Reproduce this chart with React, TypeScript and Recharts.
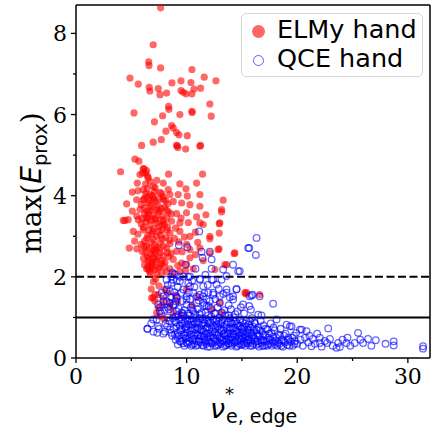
import { ScatterChart, Scatter, XAxis, YAxis, ReferenceLine } from 'recharts';

// [nu*_e,edge, max(E_prox)] pairs
const ELMY_HAND: [number, number][] = [
  [7.65, 8.63], [6.98, 7.72], [6.57, 7.3], [6.6, 7.21], [7.65, 7.15], [10.48, 7.11], [4.88, 6.9], [5.63, 6.75],
  [6.62, 6.67], [6.68, 6.58], [7.44, 6.64], [7.59, 6.49], [8.19, 6.53], [8.67, 6.78], [9.49, 6.83], [10.39, 6.79],
  [11.59, 6.92], [12.65, 6.83], [9.49, 6.59], [9.69, 6.55], [9.94, 6.51], [10.48, 6.51], [10.66, 6.63], [11.26, 6.65],
  [12.1, 6.26], [12.22, 5.96], [8.37, 6.2], [8.4, 6.13], [5.24, 6.04], [7.83, 5.97], [9.39, 6.0], [10.48, 6.08],
  [10.5, 6.05], [7.09, 5.82], [8.64, 5.73], [8.79, 5.67], [8.13, 5.59], [9.09, 5.56], [9.3, 5.5], [10.06, 5.48],
  [5.93, 5.24], [6.98, 5.32], [7.71, 5.38], [9.09, 5.24], [9.21, 5.19], [9.91, 5.15], [11.26, 5.24], [9.15, 5.23],
  [11.2, 5.22], [5.33, 4.9], [5.69, 4.85], [6.14, 4.67], [6.38, 4.62], [6.02, 4.56], [4.03, 4.59], [5.78, 4.52],
  [6.47, 4.48], [8.37, 4.53], [11.44, 4.53], [6.08, 4.66], [6.29, 4.56], [6.53, 4.44],
  [5.54, 4.31], [6.29, 4.29], [6.98, 4.23], [7.89, 4.31], [9.39, 4.29], [9.94, 4.17], [10.9, 4.31], [7.3, 4.38], [6.7, 4.35],
  [5.09, 4.09], [6.08, 4.15], [6.68, 4.03], [7.59, 4.08], [8.34, 4.15], [8.49, 4.03], [9.24, 4.03], [10.06, 3.99],
  [11.2, 4.03], [5.6, 4.12], [7.1, 4.1], [6.4, 3.98], [7.9, 3.97],
  [4.58, 3.8], [5.48, 3.9], [6.08, 3.9], [6.98, 3.89], [7.89, 3.9], [8.79, 3.86], [9.55, 3.82], [10.3, 3.78],
  [11.2, 3.74], [13.3, 3.89], [5.9, 3.78], [6.5, 3.82], [7.4, 3.77], [8.3, 3.8], [7.0, 3.95], [6.2, 3.7],
  [5.09, 3.62], [5.78, 3.66], [6.68, 3.62], [7.43, 3.59], [8.19, 3.64], [9.09, 3.56], [9.99, 3.58], [10.9, 3.48],
  [11.74, 3.53], [13.16, 3.6], [13.16, 3.66], [6.2, 3.55], [7.0, 3.52], [7.8, 3.5], [8.6, 3.55], [5.5, 3.5],
  [6.5, 3.45], [9.5, 3.45],
  [4.27, 3.39], [4.72, 3.41], [5.63, 3.41], [6.38, 3.45], [7.14, 3.41], [7.89, 3.37], [8.64, 3.37], [9.39, 3.33],
  [10.15, 3.34], [11.2, 3.33], [11.5, 3.29], [12.95, 3.31], [13.0, 3.33], [4.43, 3.39], [5.9, 3.3], [6.7, 3.28],
  [7.5, 3.25], [8.3, 3.22], [9.0, 3.2], [6.1, 3.22], [7.0, 3.18],
  [5.18, 3.12], [6.08, 3.16], [6.98, 3.12], [7.74, 3.16], [8.49, 3.08], [9.39, 3.12], [10.3, 3.0], [12.1, 3.0],
  [12.95, 3.08], [5.6, 3.05], [6.5, 3.02], [7.3, 3.0], [8.1, 2.97], [8.9, 2.95], [9.8, 2.98], [12.1, 2.94],
  [10.8, 3.1], [5.3, 2.88], [6.2, 2.88], [6.8, 2.85], [7.6, 2.84], [8.5, 2.82], [9.3, 2.86], [10.0, 2.8],
  [11.0, 2.85], [7.1, 2.78], [5.9, 2.8],
  [4.82, 2.71], [5.5, 2.69], [6.38, 2.75], [7.14, 2.67], [8.19, 2.71], [9.09, 2.63], [10.3, 2.67], [11.2, 2.71],
  [12.1, 2.59], [12.85, 2.67], [12.93, 2.69], [14.3, 2.57], [14.36, 2.59], [6.0, 2.62], [7.6, 2.6], [8.6, 2.58],
  [9.6, 2.62], [6.8, 2.55], [10.8, 2.55],
  [6.53, 2.38], [7.29, 2.43], [8.04, 2.36], [8.79, 2.43], [9.55, 2.34], [10.3, 2.47], [6.1, 2.45], [7.0, 2.48],
  [7.7, 2.32], [8.4, 2.5], [9.2, 2.28], [10.0, 2.3], [11.5, 2.4], [13.61, 2.3], [13.46, 2.3],
  [6.38, 2.2], [6.68, 2.14], [7.14, 2.18], [7.74, 2.1], [8.49, 2.2], [9.39, 2.14], [12.56, 2.18], [6.5, 2.25],
  [6.9, 2.28], [7.4, 2.22], [6.7, 2.08], [8.0, 2.25], [7.3, 2.06], [8.8, 2.08], [9.9, 2.15], [10.6, 2.2],
  [6.53, 2.18], [6.84, 2.22],
  [6.3, 4.05], [6.9, 4.0], [7.5, 3.93], [6.6, 3.88], [7.2, 3.85], [7.7, 3.68], [6.9, 3.7], [6.4, 3.62],
  [7.3, 3.66], [8.0, 3.72], [6.0, 3.44], [6.8, 3.4], [7.6, 3.42], [8.2, 3.45], [6.3, 3.35], [7.3, 3.32],
  [8.0, 3.3], [6.6, 3.15], [7.5, 3.12], [8.2, 3.15], [6.4, 2.95], [7.0, 2.92], [7.8, 2.93], [6.6, 2.7],
  [7.3, 2.73], [7.9, 2.76], [6.3, 2.6], [7.1, 2.58], [7.9, 2.52], [6.6, 2.45], [7.4, 2.5], [6.2, 2.3],
  [7.8, 2.4], [6.9, 2.35],
  [6.45, 4.18], [7.15, 4.2], [7.75, 4.05], [8.1, 3.88], [6.15, 3.92], [6.75, 3.75], [7.55, 3.62], [8.35, 3.6],
  [6.55, 3.55], [7.15, 3.45], [7.85, 3.28], [6.85, 3.05], [7.65, 3.02], [8.45, 2.9], [6.15, 2.75], [6.95, 2.65],
  [7.55, 2.68], [8.25, 2.6], [6.45, 2.5], [7.15, 2.38], [7.55, 2.25], [8.2, 2.12], [6.75, 2.32],
  [6.98, 1.48], [7.14, 1.4], [8.04, 1.69], [7.14, 1.56], [6.84, 1.48], [7.43, 1.24], [7.59, 1.03], [7.29, 1.11],
  [15.27, 1.61], [15.42, 1.61], [16.6, 1.56], [15.36, 1.58], [7.0, 1.88], [7.5, 1.78], [7.2, 1.95], [8.3, 1.6],
  [6.8, 1.7], [9.0, 1.55], [7.8, 1.3], [8.5, 1.25], [9.2, 1.4], [10.0, 1.7], [10.5, 1.3], [11.0, 1.5],
  [12.3, 1.2], [13.0, 1.35], [8.0, 0.95], [9.5, 1.05], [7.43, 1.56], [7.89, 1.44], [8.49, 1.36], [8.79, 1.11],
  [13.16, 1.11],
];

const QCE_HAND: [number, number][] = [
  // main band
  [6.44, 0.72], [6.47, 0.72], [6.98, 0.95], [7.43, 0.78], [7.35, 0.62], [6.8, 0.85], [7.0, 0.65], [7.3, 0.95],
  [7.5, 0.72], [7.7, 1.1], [7.9, 0.6], [8.1, 0.85], [8.3, 1.0], [8.5, 0.7], [8.7, 0.55], [8.9, 0.9],
  [9.1, 1.15], [9.2, 0.62], [9.4, 0.8], [9.6, 0.48], [9.7, 1.05], [9.9, 0.7], [10.0, 0.38], [10.1, 0.9],
  [8.05, 0.65], [8.25, 0.78], [8.45, 0.9], [8.6, 0.62], [8.75, 0.98], [8.85, 0.72], [8.95, 0.58],
  [9.0, 0.45], [9.1, 0.78], [9.2, 0.33], [9.3, 0.55], [9.35, 0.95], [9.45, 0.68], [9.5, 0.4], [9.6, 0.85],
  [9.65, 1.1], [9.75, 0.58], [9.8, 0.3], [9.85, 0.75], [9.9, 0.48], [9.95, 0.98],
  [9.05, 0.88], [9.15, 0.52], [9.25, 1.05], [9.38, 0.42], [9.52, 0.72], [9.58, 0.95], [9.68, 0.36], [9.78, 0.88],
  [9.88, 0.55], [9.98, 0.78],
  [10.05, 0.62], [10.1, 0.35], [10.2, 0.82], [10.25, 0.5], [10.3, 1.05], [10.35, 0.68], [10.4, 0.3], [10.45, 0.9],
  [10.5, 0.45], [10.55, 0.72], [10.6, 1.15], [10.65, 0.55], [10.7, 0.36], [10.75, 0.85], [10.8, 0.62], [10.85, 0.98],
  [10.9, 0.42], [10.95, 0.75],
  [10.02, 0.5], [10.12, 0.7], [10.22, 0.4], [10.28, 0.95], [10.38, 0.58], [10.48, 0.82], [10.52, 0.33], [10.62, 0.9],
  [10.68, 0.48], [10.78, 0.7], [10.82, 0.3], [10.92, 0.88], [10.98, 0.55],
  [11.0, 0.32], [11.05, 0.58], [11.1, 0.88], [11.15, 0.47], [11.2, 1.08], [11.25, 0.7], [11.3, 0.38], [11.35, 0.8],
  [11.4, 0.55], [11.45, 0.95], [11.5, 0.3], [11.55, 0.65], [11.6, 0.45], [11.65, 0.85], [11.7, 1.12], [11.75, 0.6],
  [11.8, 0.35], [11.85, 0.75], [11.9, 0.5], [11.95, 0.92],
  [11.02, 0.72], [11.12, 0.4], [11.18, 0.98], [11.28, 0.55], [11.38, 0.68], [11.42, 0.32], [11.52, 0.88], [11.58, 0.52],
  [11.68, 0.4], [11.72, 0.72], [11.82, 0.95], [11.88, 0.28], [11.92, 0.62], [11.98, 0.45],
  [12.0, 0.4], [12.05, 0.7], [12.1, 0.28], [12.15, 0.88], [12.2, 0.55], [12.25, 1.02], [12.3, 0.36], [12.35, 0.65],
  [12.4, 0.8], [12.45, 0.48], [12.5, 1.1], [12.55, 0.3], [12.6, 0.72], [12.65, 0.57], [12.7, 0.92], [12.75, 0.42],
  [12.8, 0.78], [12.85, 0.33], [12.9, 0.62], [12.95, 1.0],
  [12.02, 0.85], [12.12, 0.55], [12.18, 0.38], [12.28, 0.75], [12.38, 0.5], [12.42, 0.95], [12.52, 0.62], [12.58, 0.4],
  [12.68, 0.82], [12.72, 0.3], [12.82, 0.55], [12.88, 0.9], [12.98, 0.38],
  [13.0, 0.5], [13.05, 0.85], [13.1, 0.35], [13.15, 0.68], [13.2, 0.45], [13.25, 0.95], [13.3, 0.28], [13.35, 0.6],
  [13.4, 0.78], [13.45, 0.4], [13.5, 1.05], [13.55, 0.55], [13.6, 0.32], [13.65, 0.72], [13.7, 0.88], [13.75, 0.47],
  [13.8, 0.62], [13.85, 0.36], [13.9, 0.98], [13.95, 0.52],
  [13.02, 0.72], [13.12, 0.5], [13.18, 0.88], [13.28, 0.42], [13.32, 0.68], [13.42, 0.58], [13.48, 0.3], [13.58, 0.82],
  [13.62, 0.45], [13.72, 0.6], [13.78, 0.35], [13.88, 0.75], [13.92, 0.42], [13.98, 0.88],
  [14.0, 0.7], [14.05, 0.3], [14.1, 0.85], [14.15, 0.45], [14.2, 0.6], [14.25, 1.0], [14.3, 0.38], [14.35, 0.75],
  [14.4, 0.52], [14.45, 0.9], [14.5, 0.28], [14.55, 0.65], [14.6, 0.42], [14.65, 0.8], [14.7, 0.55], [14.75, 0.35],
  [14.8, 0.95], [14.85, 0.6], [14.9, 0.45], [14.95, 0.72],
  [14.02, 0.52], [14.12, 0.35], [14.18, 0.72], [14.28, 0.58], [14.32, 0.9], [14.42, 0.4], [14.48, 0.68], [14.58, 0.85],
  [14.62, 0.3], [14.68, 0.62], [14.78, 0.48], [14.82, 0.78], [14.92, 0.32], [14.98, 0.55],
  [15.0, 0.33], [15.05, 0.88], [15.1, 0.5], [15.15, 0.66], [15.2, 0.4], [15.25, 0.78], [15.3, 0.3], [15.35, 0.58],
  [15.4, 0.92], [15.45, 0.45], [15.5, 0.7], [15.55, 0.36], [15.6, 0.82], [15.65, 0.52], [15.7, 0.62], [15.75, 0.3],
  [15.8, 0.75], [15.85, 0.44], [15.9, 0.98], [15.95, 0.56],
  [15.02, 0.62], [15.12, 0.75], [15.18, 0.35], [15.28, 0.52], [15.32, 0.85], [15.42, 0.38], [15.48, 0.62], [15.58, 0.45],
  [15.62, 0.7], [15.72, 0.9], [15.78, 0.4], [15.88, 0.62], [15.92, 0.3], [15.98, 0.78],
  [16.0, 0.35], [16.1, 0.68], [16.15, 0.48], [16.2, 0.85], [16.3, 0.32], [16.35, 0.6], [16.4, 0.42], [16.5, 0.75],
  [16.55, 0.28], [16.6, 0.55], [16.7, 0.92], [16.75, 0.38], [16.8, 0.65], [16.9, 0.45], [16.95, 0.8],
  [16.05, 0.52], [16.12, 0.88], [16.25, 0.4], [16.32, 0.7], [16.45, 0.55], [16.52, 0.35], [16.62, 0.68], [16.72, 0.45],
  [16.85, 0.3], [16.92, 0.58],
  [17.0, 0.3], [17.1, 0.55], [17.2, 0.4], [17.3, 0.7], [17.35, 0.33], [17.45, 0.6], [17.5, 0.45], [17.6, 0.85],
  [17.7, 0.3], [17.8, 0.52], [17.9, 0.38], [17.95, 0.68],
  [17.05, 0.42], [17.15, 0.72], [17.25, 0.3], [17.4, 0.5], [17.55, 0.35], [17.65, 0.62], [17.75, 0.42], [17.85, 0.75],
  [17.98, 0.33],
  // right tail
  [18.0, 0.42], [18.13, 0.95], [18.2, 0.3], [18.3, 0.58], [18.4, 0.35], [18.5, 0.72], [18.6, 0.45], [18.7, 0.28],
  [18.8, 0.55], [18.9, 0.38], [19.04, 0.82], [19.1, 0.32], [19.2, 0.5], [19.33, 0.78], [19.4, 0.4], [19.49, 0.78],
  [19.6, 0.3], [19.7, 0.55], [19.8, 0.42], [19.9, 0.62],
  [18.1, 0.5], [18.25, 0.38], [18.45, 0.55], [18.55, 0.3], [18.75, 0.42], [18.95, 0.6], [19.15, 0.45], [19.3, 0.3],
  [19.55, 0.5], [19.75, 0.35],
  [20.0, 0.35], [20.24, 0.7], [20.3, 0.45], [20.4, 0.7], [20.5, 0.3], [20.7, 0.5], [20.84, 0.66], [21.0, 0.38],
  [21.1, 0.55], [21.29, 0.29], [21.4, 0.47], [21.6, 0.35], [21.8, 0.6], [22.04, 0.5], [22.04, 0.37], [22.2, 0.28],
  [22.5, 0.42], [22.7, 0.37], [22.8, 0.73], [22.95, 0.47],
  [23.2, 0.3], [23.55, 0.25], [23.7, 0.37], [23.85, 0.27], [24.1, 0.45], [24.45, 0.37], [24.54, 0.5], [24.8, 0.3],
  [25.2, 0.37], [25.5, 0.62], [25.7, 0.45], [25.95, 0.37], [26.4, 0.47], [26.7, 0.3], [27.1, 0.44], [27.98, 0.35],
  [28.72, 0.41], [28.72, 0.31], [31.37, 0.29], [31.37, 0.23],
  // band top edge
  [9.0, 1.02], [9.55, 1.12], [10.15, 1.1], [10.75, 1.08], [11.35, 1.12], [11.95, 1.05], [12.6, 1.1], [13.2, 1.12],
  [13.8, 1.05], [14.4, 1.08], [10.5, 1.18], [12.0, 1.28],
  // sparse upper part
  [11.14, 3.12], [9.3, 2.78], [10.06, 2.73], [11.35, 2.62], [11.44, 2.47], [12.1, 2.62], [12.26, 2.43], [12.26, 2.2],
  [14.2, 2.3], [14.66, 2.14], [15.57, 2.71], [16.32, 2.96], [15.66, 2.71], [16.26, 2.54], [14.8, 2.14], [8.94, 2.06],
  [8.79, 1.93], [9.39, 2.0], [10.15, 2.0], [13.3, 2.18], [9.69, 2.01], [11.2, 1.93], [12.4, 1.93], [13.16, 1.93],
  [10.3, 1.77], [11.5, 1.77], [12.71, 1.81], [13.61, 1.69], [14.52, 1.7], [10.0, 1.52], [11.2, 1.56], [11.95, 1.61],
  [13.0, 1.52], [14.2, 1.52], [15.7, 1.52], [16.6, 1.52], [15.87, 1.54], [17.82, 1.34], [15.66, 1.28], [15.81, 1.19],
  [16.47, 1.07], [16.77, 1.05], [15.96, 1.56], [8.73, 2.1], [10.3, 2.01], [8.19, 1.93], [8.64, 1.85], [9.39, 1.89],
  [10.15, 1.85], [11.2, 1.95], [12.26, 1.93], [7.74, 1.61], [8.49, 1.65], [9.09, 1.52], [9.69, 1.69], [10.6, 1.61],
  [11.5, 1.52], [12.4, 1.61], [8.19, 1.4], [8.94, 1.32], [9.99, 1.44], [10.9, 1.36], [11.8, 1.28], [8.19, 1.69],
  [7.89, 1.52], [7.43, 1.32], [7.59, 1.15], [8.49, 1.36], [9.09, 1.48], [9.99, 1.32], [10.9, 1.52], [11.5, 1.36],
  [12.4, 1.56], [13.0, 1.36], [13.61, 1.61], [14.2, 1.44], [14.5, 1.69], [15.1, 1.32],
  [7.6, 1.25], [8.0, 1.18], [8.4, 1.2], [8.8, 1.3], [9.3, 1.22], [9.8, 1.18], [10.4, 1.25], [11.0, 1.2],
  [11.6, 1.3], [12.2, 1.22], [12.8, 1.25], [13.4, 1.18], [14.0, 1.2], [14.6, 1.15], [15.2, 1.1], [7.9, 1.4],
  [8.6, 1.5], [9.5, 1.6], [10.3, 1.45], [11.8, 1.45], [12.9, 1.7], [13.8, 1.3], [14.9, 1.25], [9.9, 2.3],
  [10.8, 2.2], [11.7, 2.05], [13.6, 2.02],
  [8.3, 1.8], [8.9, 1.62], [9.2, 1.75], [9.6, 1.4], [10.2, 1.62], [10.7, 1.75], [11.1, 1.42], [11.6, 1.6],
  [12.1, 1.4], [12.6, 1.45], [13.3, 1.58], [13.9, 1.5], [8.6, 2.0], [9.1, 1.9], [10.5, 1.9], [11.9, 1.8],
  [8.3, 1.25], [9.0, 1.4],
];

const X_TICKS = [0, 5, 10, 15, 20, 25, 30];
const Y_TICKS = [0, 1, 2, 3, 4, 5, 6, 7, 8];
const X_MAX = 32;
const Y_MAX = 8.7;
const DASHED_LEVEL = 2;
const SOLID_LEVEL = 1;

const elmy = ELMY_HAND.map(([x, y]) => ({ x, y }));
const qce = QCE_HAND.map(([x, y]) => ({ x, y }));

const RedDot = (p: any) => (
  <circle cx={p.cx} cy={p.cy} r={3.6} fill="#ff0000" fillOpacity={0.6} />
);
const BlueRing = (p: any) => (
  <circle cx={p.cx} cy={p.cy} r={3.3} fill="none" stroke="#0000ff" strokeOpacity={0.6} strokeWidth={1.3} />
);

const XTick = ({ x, y, payload }: any) => {
  const major = payload.value % 10 === 0;
  return (
    <g>
      <line x1={x} x2={x} y1={y} y2={y + (major ? 5 : 3)} stroke="#000" strokeWidth={1.3} />
      {major && (
        <text x={x} y={y + 26} textAnchor="middle" fontFamily="DejaVu Serif" fontSize={22} fill="#000">
          {payload.value}
        </text>
      )}
    </g>
  );
};

const YTick = ({ x, y, payload }: any) => {
  const major = payload.value % 2 === 0;
  return (
    <g>
      <line x1={x} x2={x - (major ? 5 : 3)} y1={y} y2={y} stroke="#000" strokeWidth={1.3} />
      {major && (
        <text x={x - 9} y={y + 8} textAnchor="end" fontFamily="DejaVu Serif" fontSize={22} fill="#000">
          {payload.value}
        </text>
      )}
    </g>
  );
};

const XLabel = () => (
  <g fill="#000" fontFamily="DejaVu Sans">
    <text x={210} y={418} fontSize={27} fontStyle="italic">ν</text>
    <text x={225} y={400} fontSize={18}>*</text>
    <text x={226} y={423} fontSize={19}>e, edge</text>
  </g>
);

const YLabel = () => (
  <text transform="translate(41,183) rotate(-90)" textAnchor="middle" fill="#000" fontSize={28}>
    <tspan fontFamily="DejaVu Serif">max(</tspan>
    <tspan fontFamily="DejaVu Sans" fontStyle="italic">E</tspan>
    <tspan fontFamily="DejaVu Sans" fontSize={19.5} dy={6}>prox</tspan>
    <tspan fontFamily="DejaVu Serif" dy={-6}>)</tspan>
  </text>
);

export default function App() {
  return (
    <div style={{ position: 'relative', width: 431, height: 432, background: '#fff' }}>
      <style>{'body{margin:0}'}</style>
      <ScatterChart width={431} height={432} margin={{ top: 5, right: 1, bottom: 14, left: 0 }}>
        <XAxis
          type="number"
          dataKey="x"
          domain={[0, X_MAX]}
          ticks={X_TICKS}
          allowDataOverflow
          height={60}
          tickSize={0}
          tickMargin={0}
          tick={<XTick />}
          axisLine={{ stroke: '#000', strokeWidth: 1.5 }}
          label={{ content: () => <XLabel /> }}
        />
        <YAxis
          type="number"
          dataKey="y"
          domain={[0, Y_MAX]}
          ticks={Y_TICKS}
          allowDataOverflow
          width={76}
          tickSize={0}
          tickMargin={0}
          tick={<YTick />}
          axisLine={{ stroke: '#000', strokeWidth: 1.5 }}
          label={{ content: () => <YLabel /> }}
        />
        <Scatter data={elmy} shape={RedDot} isAnimationActive={false} />
        <Scatter data={qce} shape={BlueRing} isAnimationActive={false} />
        <ReferenceLine y={DASHED_LEVEL} stroke="#000" strokeWidth={2} strokeDasharray="8 3.5" />
        <ReferenceLine y={SOLID_LEVEL} stroke="#000" strokeWidth={2} />
        <ReferenceLine y={Y_MAX} stroke="#000" strokeWidth={1.5} />
        <ReferenceLine x={X_MAX} stroke="#000" strokeWidth={1.5} />
      </ScatterChart>
      <div
        style={{
          position: 'absolute', left: 241, top: 13, width: 182, height: 64, boxSizing: 'border-box',
          border: '1px solid #d6d6d6', borderRadius: 5, background: 'rgba(255,255,255,0.8)',
          fontFamily: 'DejaVu Sans', fontSize: 25.5, color: '#000', lineHeight: '29px',
        }}
      >
        <div style={{ position: 'absolute', left: 10, top: 11, width: 13, height: 13, borderRadius: '50%', background: 'rgba(255,0,0,0.6)' }} />
        <div style={{ position: 'absolute', left: 35, top: 1 }}>ELMy hand</div>
        <div style={{ position: 'absolute', left: 11, top: 41, width: 11, height: 11, borderRadius: '50%', boxSizing: 'border-box', border: '1.3px solid rgba(0,0,255,0.6)' }} />
        <div style={{ position: 'absolute', left: 35, top: 30 }}>QCE hand</div>
      </div>
    </div>
  );
}
